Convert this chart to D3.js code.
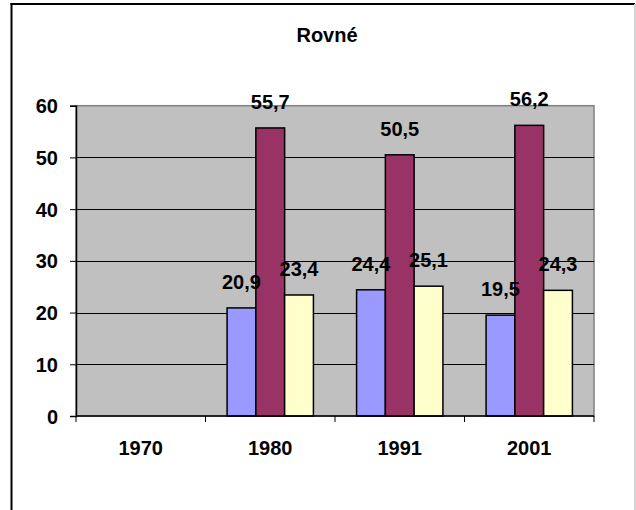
<!DOCTYPE html>
<html>
<head>
<meta charset="utf-8">
<script src="https://cdn.jsdelivr.net/npm/d3@7"></script>
<style>
  html, body { margin: 0; padding: 0; background: #fff; }
  svg { display: block; }
  text { font-family: "Liberation Sans", Arial, sans-serif; font-weight: bold; fill: #000; }
</style>
</head>
<body>
<svg id="chart" width="636" height="510"></svg>
<script>
const title = "Rovné";
const categories = ["1970", "1980", "1991", "2001"];
const seriesA = [null, 20.9, 24.4, 19.5];
const seriesB = [null, 55.7, 50.5, 56.2];
const seriesC = [null, 23.4, 25.1, 24.3];
const yTicks = [0, 10, 20, 30, 40, 50, 60];
const seriesColors = ["#9999FF", "#993366", "#FFFFCC"];

const series = [seriesA, seriesB, seriesC];

const svg = d3.select("#chart");
const W = 636, H = 510;

// outer frame
svg.append("rect").attr("x", 0).attr("y", 0).attr("width", W).attr("height", H).attr("fill", "#fff");
svg.append("line").attr("x1", 11.5).attr("x2", 11.5).attr("y1", 3).attr("y2", H).attr("stroke", "#000").attr("stroke-width", 2);
svg.append("line").attr("x1", 10.5).attr("x2", 635).attr("y1", 4).attr("y2", 4).attr("stroke", "#000").attr("stroke-width", 2);
svg.append("line").attr("x1", 635).attr("x2", 635).attr("y1", 4).attr("y2", H).attr("stroke", "#d4d4d4").attr("stroke-width", 2);

const plot = { left: 76, right: 594, top: 105.7, bottom: 416 };

const x = d3.scaleBand().domain(categories).range([plot.left, plot.right]).paddingInner(0).paddingOuter(0);
const y = d3.scaleLinear().domain([0, 60]).range([plot.bottom, plot.top]);

// inner band for the three bars: gap width 150% -> group = 3/4.5 of category
const groupFrac = 3 / 4.5;
const xs = d3.scaleBand().domain(d3.range(series.length))
  .range([0, x.bandwidth() * groupFrac]).padding(0);
const groupOffset = (x.bandwidth() * (1 - groupFrac)) / 2;

// plot background
svg.append("rect")
  .attr("x", plot.left).attr("y", plot.top)
  .attr("width", plot.right - plot.left).attr("height", plot.bottom - plot.top)
  .attr("fill", "#C0C0C0").attr("stroke", "#808080").attr("stroke-width", 1.5);

// gridlines
svg.append("g").selectAll("line").data(yTicks.filter(d => d > 0 && d < 60)).join("line")
  .attr("x1", plot.left).attr("x2", plot.right)
  .attr("y1", d => Math.round(y(d)) + 0.5).attr("y2", d => Math.round(y(d)) + 0.5)
  .attr("stroke", "#000").attr("stroke-width", 1);

// bars
const fmt = v => d3.format(".1f")(v).replace(".", ",");
series.forEach((s, si) => {
  const data = categories.map((c, i) => ({ c, v: s[i] })).filter(d => d.v != null);
  svg.append("g").selectAll("rect").data(data).join("rect")
    .attr("x", d => x(d.c) + groupOffset + xs(si))
    .attr("y", d => y(d.v))
    .attr("width", xs.bandwidth())
    .attr("height", d => y(0) - y(d.v))
    .attr("fill", seriesColors[si])
    .attr("stroke", "#000").attr("stroke-width", 1.5);
});

// labels
series.forEach((s, si) => {
  const data = categories.map((c, i) => ({ c, v: s[i] })).filter(d => d.v != null);
  svg.append("g").selectAll("text").data(data).join("text")
    .attr("x", d => x(d.c) + groupOffset + xs(si) + xs.bandwidth() / 2)
    .attr("y", d => y(d.v) - 19)
    .attr("text-anchor", "middle")
    .attr("font-size", 20)
    .text(d => fmt(d.v));
});

// y axis
const yAxis = d3.axisLeft(y).tickValues(yTicks).tickSize(6).tickPadding(12).tickFormat(d3.format("d"));
const gy = svg.append("g").attr("transform", `translate(${plot.left},0)`).call(yAxis);
gy.select(".domain").attr("stroke", "#000").attr("stroke-width", 1.5);
gy.selectAll(".tick line").attr("stroke", "#000");
gy.selectAll(".tick text").attr("font-size", 20).attr("font-family", "'Liberation Sans', Arial, sans-serif").attr("font-weight", "bold").attr("fill", "#000").attr("dy", "0.35em");

// x axis line
svg.append("line").attr("x1", plot.left).attr("x2", plot.right)
  .attr("y1", plot.bottom).attr("y2", plot.bottom).attr("stroke", "#000").attr("stroke-width", 1.5);

// x ticks at category boundaries
const boundaries = categories.map(c => x(c)).concat([plot.right]);
svg.append("g").selectAll("line").data(boundaries).join("line")
  .attr("x1", d => d).attr("x2", d => d)
  .attr("y1", plot.bottom).attr("y2", plot.bottom + 6)
  .attr("stroke", "#000").attr("stroke-width", 1);

// x labels
svg.append("g").selectAll("text").data(categories).join("text")
  .attr("x", d => x(d) + x.bandwidth() / 2)
  .attr("y", 455)
  .attr("text-anchor", "middle")
  .attr("font-size", 20)
  .text(d => d);

// title
svg.append("text").attr("x", 327).attr("y", 41.5)
  .attr("text-anchor", "middle").attr("font-size", 20).text(title);
</script>
</body>
</html>
